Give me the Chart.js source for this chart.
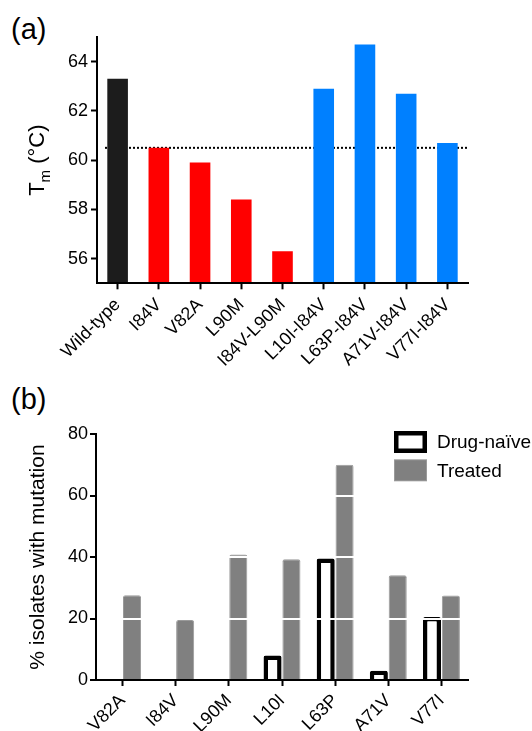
<!DOCTYPE html>
<html>
<head>
<meta charset="utf-8">
<script src="https://cdn.jsdelivr.net/npm/chart.js@4/dist/chart.umd.min.js"></script>
<style>
  html, body { margin: 0; padding: 0; background: #fff; }
  body { width: 532px; height: 731px; position: relative; overflow: hidden; font-family: 'Liberation Sans', Arial, sans-serif; }
  .panel { position: absolute; left: 11px; font-size: 29px; line-height: 29px; color: #000; }
  #boxA { position: absolute; left: 0; top: 0; width: 532px; height: 380px; }
  #boxB { position: absolute; left: 0; top: 380px; width: 532px; height: 351px; }
</style>
</head>
<body>
<div class="panel" style="top:15px">(a)</div>
<div class="panel" style="top:385px">(b)</div>
<div id="boxA"><canvas id="chartA"></canvas></div>
<div id="boxB"><canvas id="chartB"></canvas></div>
<script>
const FONT = "'Liberation Sans', Arial, sans-serif";

// (a) melting temperature per variant
const variants = ['Wild-type', 'I84V', 'V82A', 'L90M', 'I84V-L90M', 'L10I-I84V', 'L63P-I84V', 'A71V-I84V', 'V77I-I84V'];
const tmValues = [63.3, 60.5, 59.9, 58.4, 56.3, 62.9, 64.7, 62.7, 60.7];
const variantColors = ['#1c1c1c', '#ff0000', '#ff0000', '#ff0000', '#ff0000', '#0080ff', '#0080ff', '#0080ff', '#0080ff'];
const tmTicks = [56, 58, 60, 62, 64];
const tmMin = 55, tmMax = 65;
const tmRef = 60.5;

// (b) prevalence of mutations
const mutations = ['V82A', 'I84V', 'L90M', 'L10I', 'L63P', 'A71V', 'V77I'];
const naive = [0, 0, 0, 8, 39.5, 3, 20.5];
const treated = [27.6, 19.5, 40.8, 39.3, 70.0, 34.1, 27.5];
const pctTicks = [0, 20, 40, 60, 80];

Chart.defaults.font.family = FONT;
Chart.defaults.color = '#000';

// rotated y title, drawn in pieces so the subscript works
const yTitle = {
  id: 'yTitle',
  afterDraw(chart, args, opts) {
    const { ctx, chartArea } = chart;
    ctx.save();
    ctx.translate(opts.x, (chartArea.top + chartArea.bottom) / 2);
    ctx.rotate(-Math.PI / 2);
    ctx.fillStyle = '#000';
    ctx.textBaseline = 'alphabetic';
    let total = 0;
    opts.parts.forEach(p => { ctx.font = p.size + 'px ' + FONT; total += ctx.measureText(p.text).width; });
    let x = -total / 2;
    opts.parts.forEach(p => {
      ctx.font = p.size + 'px ' + FONT;
      ctx.fillText(p.text, x, p.dy || 0);
      x += ctx.measureText(p.text).width;
    });
    ctx.restore();
  }
};

// dotted reference line, behind the bars
const refLine = {
  id: 'refLine',
  beforeDatasetsDraw(chart, args, opts) {
    if (opts.value === undefined) return;
    const { ctx, chartArea, scales } = chart;
    const y = scales.y.getPixelForValue(opts.value);
    ctx.save();
    ctx.strokeStyle = '#000';
    ctx.lineWidth = 2;
    ctx.setLineDash([2, 2]);
    ctx.beginPath();
    ctx.moveTo(chartArea.left + 8, y);
    ctx.lineTo(chartArea.right, y);
    ctx.stroke();
    ctx.restore();
  }
};

// legend inside the plot, top right
const boxLegend = {
  id: 'boxLegend',
  afterDraw(chart, args, opts) {
    if (!opts.show) return;
    const { ctx } = chart;
    ctx.save();
    chart.data.datasets.forEach((ds, i) => {
      const x = opts.x, y = opts.y + i * opts.step, b = ds.borderWidth;
      ctx.fillStyle = ds.borderColor;
      ctx.fillRect(x, y, opts.w, opts.h);
      ctx.fillStyle = ds.backgroundColor;
      ctx.fillRect(x + b, y + b, opts.w - 2 * b, opts.h - 2 * b);
      ctx.fillStyle = '#000';
      ctx.font = opts.size + 'px ' + FONT;
      ctx.textBaseline = 'middle';
      ctx.fillText(ds.label, x + opts.w + opts.gap, y + opts.h / 2 + 1);
    });
    ctx.restore();
  }
};

const tickFont = { family: FONT, size: 18 };

new Chart(document.getElementById('chartA'), {
  type: 'bar',
  data: {
    labels: variants,
    datasets: [{
      data: tmValues,
      backgroundColor: variantColors,
      base: tmMin,
      barPercentage: 0.5,
      categoryPercentage: 1
    }]
  },
  options: {
    responsive: true,
    maintainAspectRatio: false,
    animation: false,
    layout: { padding: { top: 37, right: 64, left: 0, bottom: 0 } },
    plugins: {
      legend: { display: false },
      tooltip: { enabled: false },
      yTitle: { x: 43.5, parts: [{ text: 'T', size: 22 }, { text: 'm', size: 15, dy: 6 }, { text: ' (°C)', size: 22 }] },
      refLine: { value: tmRef },
      boxLegend: { show: false }
    },
    scales: {
      x: {
        grid: { display: true, drawOnChartArea: false, offset: false, tickLength: 6, tickWidth: 2, tickColor: '#000' },
        border: { display: true, color: '#000', width: 2, z: 1 },
        ticks: { color: '#000', font: tickFont, maxRotation: 45, minRotation: 45, padding: 5, autoSkip: false },
        afterFit: s => { s.height = 96.7; }
      },
      y: {
        min: tmMin,
        max: tmMax,
        afterBuildTicks: s => { s.ticks = tmTicks.map(v => ({ value: v })); },
        grid: { display: true, drawOnChartArea: false, tickLength: 6, tickWidth: 2, tickColor: '#000' },
        border: { display: true, color: '#000', width: 2, z: 1 },
        ticks: { color: '#000', font: tickFont, padding: 3 },
        afterFit: s => { s.width = 97; }
      }
    }
  },
  plugins: [yTitle, refLine, boxLegend]
});

new Chart(document.getElementById('chartB'), {
  type: 'bar',
  data: {
    labels: mutations,
    datasets: [
      { label: 'Drug-naïve', data: naive, backgroundColor: '#ffffff', borderColor: '#000000', borderWidth: 4.5, borderRadius: 2 },
      { label: 'Treated', data: treated, backgroundColor: '#808080', borderColor: '#9a9a9a', borderWidth: 1, borderRadius: 2 }
    ]
  },
  options: {
    responsive: true,
    maintainAspectRatio: false,
    animation: false,
    layout: { padding: { top: 54, right: 64, left: 0, bottom: 0 } },
    datasets: { bar: { categoryPercentage: 0.71, barPercentage: 0.957 } },
    plugins: {
      legend: { display: false },
      tooltip: { enabled: false },
      yTitle: { x: 44, parts: [{ text: '% isolates with mutation', size: 21 }] },
      boxLegend: { show: true, x: 394, y: 51, w: 33, h: 22, step: 28.3, gap: 10, size: 19 }
    },
    scales: {
      x: {
        grid: { display: true, drawOnChartArea: false, offset: false, tickLength: 6, tickWidth: 2, tickColor: '#000' },
        border: { display: true, color: '#000', width: 2, z: 1 },
        ticks: { color: '#000', font: tickFont, maxRotation: 45, minRotation: 45, padding: 4, autoSkip: false },
        afterFit: s => { s.height = 51; }
      },
      y: {
        min: 0,
        max: 80,
        afterBuildTicks: s => { s.ticks = pctTicks.map(v => ({ value: v })); },
        grid: {
          display: true,
          drawOnChartArea: true,
          z: 1,
          color: c => (c.tick && c.tick.value > 0 && c.tick.value < 80) ? '#ffffff' : 'rgba(0,0,0,0)',
          lineWidth: 2,
          tickLength: 6,
          tickWidth: 2,
          tickColor: '#000'
        },
        border: { display: true, color: '#000', width: 2, z: 2 },
        ticks: { color: '#000', font: tickFont, padding: 2 },
        afterFit: s => { s.width = 96; }
      }
    }
  },
  plugins: [yTitle, refLine, boxLegend]
});
</script>
</body>
</html>
